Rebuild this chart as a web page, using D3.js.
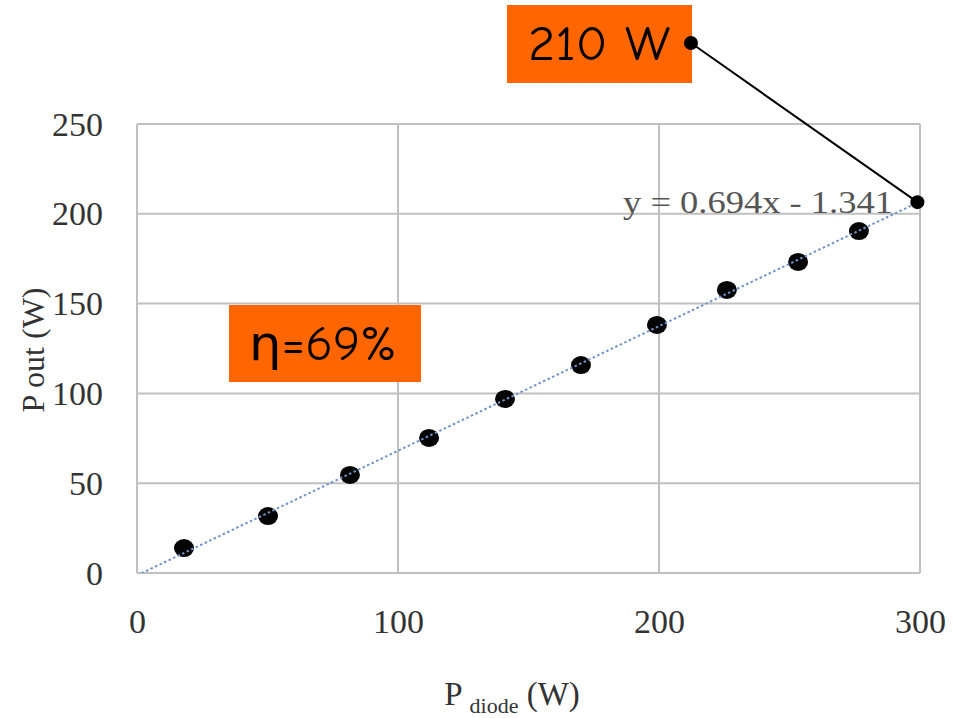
<!DOCTYPE html>
<html>
<head>
<meta charset="utf-8">
<script src="https://cdn.jsdelivr.net/npm/d3@7"></script>
<style>
  html, body { margin: 0; padding: 0; background: #fff; }
  svg { display: block; }
</style>
</head>
<body>
<svg id="chart" width="954" height="718"></svg>
<script>
// Measured output power versus diode pump power
const pDiode = [18.0, 50.2, 81.6, 111.9, 141.0, 170.1, 199.2, 226.0, 253.3, 276.6];
const pOut   = [13.9, 31.7, 54.6, 75.2, 96.9, 115.8, 138.1, 157.6, 173.2, 190.4];

// Linear fit y = slope * x + intercept
const fitSlope = 0.694;
const fitIntercept = -1.341;
const fitLabel = "y = 0.694x - 1.341";

const xTicks = [0, 100, 200, 300];
const yTicks = [0, 50, 100, 150, 200, 250];

const peakLabel = "210 W";
const peakAt = [299, 206.5];
const effLabel = "η=69%";

const svg = d3.select("#chart");
const margin = { left: 137, right: 34, top: 124, bottom: 145 };
const W = 954, H = 718;

const x = d3.scaleLinear().domain([0, 300]).range([margin.left, W - margin.right]);
const y = d3.scaleLinear().domain([0, 250]).range([H - margin.bottom, margin.top]);

const grid = "#c0c0c0";
const serif = "'Liberation Serif', 'Times New Roman', serif";
const hand = "'Comic Sans MS', 'Comic Neue', 'DejaVu Sans', sans-serif";
const ink = "#333";

// Gridlines
svg.append("g")
  .selectAll("line")
  .data(yTicks)
  .join("line")
  .attr("x1", x(0)).attr("x2", x(300))
  .attr("y1", d => y(d)).attr("y2", d => y(d))
  .attr("stroke", grid).attr("stroke-width", 2);

svg.append("g")
  .selectAll("line")
  .data(xTicks)
  .join("line")
  .attr("y1", y(0)).attr("y2", y(250))
  .attr("x1", d => x(d)).attr("x2", d => x(d))
  .attr("stroke", grid).attr("stroke-width", 2);

// Axis tick labels
const yAxis = d3.axisLeft(y).tickValues(yTicks).tickSize(0).tickPadding(34);
svg.append("g")
  .attr("transform", `translate(${x(0)},0)`)
  .call(yAxis)
  .call(g => g.select(".domain").remove())
  .call(g => g.selectAll("text")
    .attr("font-family", serif).attr("font-size", 34).attr("fill", ink)
    .attr("dy", 0).attr("y", 11));

const xAxis = d3.axisBottom(x).tickValues(xTicks).tickSize(0);
svg.append("g")
  .attr("transform", `translate(0,${y(0)})`)
  .call(xAxis)
  .call(g => g.select(".domain").remove())
  .call(g => g.selectAll("text")
    .attr("font-family", serif).attr("font-size", 34).attr("fill", ink)
    .attr("dy", 0).attr("y", 60));

// Axis titles
const yt = svg.append("text")
  .attr("transform", `translate(44,350) rotate(-90)`)
  .attr("text-anchor", "middle")
  .attr("font-family", serif).attr("font-size", 32).attr("fill", ink);
yt.append("tspan").text("P ");
yt.append("tspan").text("out");
yt.append("tspan").text(" (W)");

const xt = svg.append("text")
  .attr("x", 512).attr("y", 705)
  .attr("text-anchor", "middle")
  .attr("font-family", serif).attr("font-size", 33).attr("fill", ink);
xt.append("tspan").text("P ");
xt.append("tspan").attr("font-size", 22).attr("dy", 8).text("diode");
xt.append("tspan").attr("dy", -8).text(" (W)");

// Data points
const pts = pDiode.map((d, i) => [d, pOut[i]]);
svg.append("g")
  .selectAll("ellipse")
  .data(pts)
  .join("ellipse")
  .attr("cx", d => x(d[0])).attr("cy", d => y(d[1]))
  .attr("rx", 10).attr("ry", 9)
  .attr("fill", "#050505");

// Trend line (dotted), clipped to the plot area
svg.append("clipPath").attr("id", "plotClip")
  .append("rect")
  .attr("x", x(0)).attr("y", y(250))
  .attr("width", x(300) - x(0)).attr("height", y(0) - y(250));

const fx = [0, 300];
svg.append("line")
  .attr("clip-path", "url(#plotClip)")
  .attr("x1", x(fx[0])).attr("y1", y(fitSlope * fx[0] + fitIntercept))
  .attr("x2", x(fx[1])).attr("y2", y(fitSlope * fx[1] + fitIntercept))
  .attr("stroke", "#6f93c8").attr("stroke-width", 2)
  .attr("stroke-dasharray", "2.5,2.5");

// Fit equation label
svg.append("text")
  .attr("x", 623).attr("y", 213)
  .attr("font-family", serif).attr("font-size", 31).attr("fill", "#555")
  .attr("textLength", 270).attr("lengthAdjust", "spacingAndGlyphs")
  .text(fitLabel);

// Efficiency callout
svg.append("rect")
  .attr("x", 229).attr("y", 305).attr("width", 192).attr("height", 77)
  .attr("fill", "#ff6600");
svg.append("text")
  .attr("x", 249).attr("y", 360)
  .attr("font-family", hand).attr("font-size", 48).attr("fill", "#000")
  .attr("textLength", 148).attr("lengthAdjust", "spacingAndGlyphs")
  .text(effLabel);

// Peak output callout with leader line
svg.append("rect")
  .attr("x", 507).attr("y", 5).attr("width", 185).attr("height", 78)
  .attr("fill", "#ff6600");
svg.append("text")
  .attr("x", 528).attr("y", 60)
  .attr("font-family", hand).attr("font-size", 48).attr("fill", "#000")
  .attr("textLength", 142).attr("lengthAdjust", "spacingAndGlyphs")
  .text(peakLabel);

const tipA = [691, 43];
const tipB = [x(peakAt[0]), y(peakAt[1])];
svg.append("line")
  .attr("x1", tipA[0]).attr("y1", tipA[1])
  .attr("x2", tipB[0]).attr("y2", tipB[1])
  .attr("stroke", "#000").attr("stroke-width", 2);
svg.append("g")
  .selectAll("circle")
  .data([tipA, tipB])
  .join("circle")
  .attr("cx", d => d[0]).attr("cy", d => d[1])
  .attr("r", 7).attr("fill", "#000");
</script>
</body>
</html>
